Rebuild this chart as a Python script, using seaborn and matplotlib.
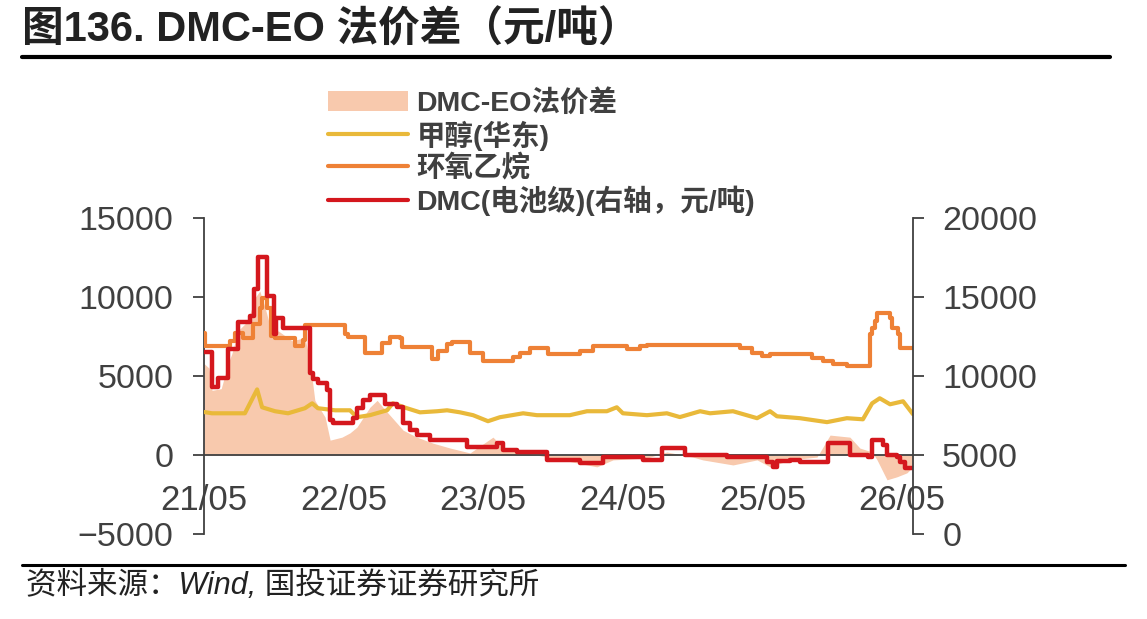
import pandas as pd
import numpy as np
import seaborn as sns
import matplotlib
matplotlib.use('Agg')
from matplotlib import pyplot as plt
import matplotlib.dates as mdates
from matplotlib.patches import Patch
from matplotlib.lines import Line2D

# DMC (battery grade), right axis, step series
dmc_dates = ['2021-05-01', '2021-05-22', '2021-06-07', '2021-07-03', '2021-07-29', '2021-08-29',
             '2021-09-09', '2021-09-19', '2021-10-13', '2021-10-31', '2021-11-05', '2021-11-24',
             '2022-02-02', '2022-02-10', '2022-02-23', '2022-03-19', '2022-03-27', '2022-04-03',
             '2022-05-26', '2022-06-05', '2022-06-21', '2022-07-09', '2022-08-18', '2022-09-18',
             '2022-10-04', '2022-10-22', '2022-11-09', '2022-12-13', '2023-03-20', '2023-06-07',
             '2023-06-22', '2023-07-29', '2023-10-15', '2024-01-10', '2024-03-10', '2024-06-22',
             '2024-08-11', '2024-10-10', '2025-01-28', '2025-05-13', '2025-05-29', '2025-06-08',
             '2025-07-12', '2025-08-07', '2025-10-19', '2025-12-16', '2026-02-01', '2026-02-12',
             '2026-03-12', '2026-03-23', '2026-04-18', '2026-04-26', '2026-05-09', '2026-05-30']
dmc_values = [11500, 9300, 9850, 11730, 13430, 13800,
              15500, 17500, 15060, 12670, 13680, 13050,
              10160, 9840, 9530, 9090, 7200, 7000,
              7330, 7960, 8460, 8770, 8210, 8020,
              7000, 6570, 6260, 5940, 5500, 5750,
              5310, 5190, 4690, 4520, 4870, 4690,
              5440, 5000, 4870, 4560, 4250, 4630,
              4690, 4560, 5750, 5000, 4870, 5940,
              5630, 5000, 4870, 4560, 4180, 4180]

# Ethylene oxide, left axis, step series
eo_dates = ['2021-05-01', '2021-05-04', '2021-07-08', '2021-07-21', '2021-08-11', '2021-09-06',
            '2021-09-24', '2021-09-30', '2021-10-13', '2021-10-23', '2021-11-03', '2021-12-25',
            '2022-01-15', '2022-01-20', '2022-05-05', '2022-05-13', '2022-06-26', '2022-08-10',
            '2022-08-31', '2022-09-26', '2022-10-01', '2022-12-18', '2023-01-03', '2023-01-27',
            '2023-02-09', '2023-03-28', '2023-05-01', '2023-07-18', '2023-08-06', '2023-09-01',
            '2023-10-18', '2024-01-10', '2024-02-13', '2024-05-12', '2024-06-15', '2024-07-03',
            '2025-03-03', '2025-04-04', '2025-04-30', '2025-05-21', '2025-09-08', '2025-10-06',
            '2025-11-01', '2025-12-08', '2026-02-06', '2026-02-12', '2026-02-19', '2026-02-25',
            '2026-03-31', '2026-04-04', '2026-04-20', '2026-04-26', '2026-05-30']
eo_values = [7690, 6920, 7230, 7740, 7420, 8300,
             9300, 9940, 9300, 7550, 7420, 6920,
             7300, 8200, 7670, 7480, 6480, 7110,
             7480, 7420, 6860, 6100, 6600, 7040,
             7170, 6480, 5980, 6230, 6480, 6800,
             6420, 6600, 6920, 6730, 6920, 6980,
             6800, 6480, 6290, 6420, 6160, 5980,
             5790, 5660, 7670, 8050, 8490, 9000,
             8700, 8050, 7670, 6800, 6800]

# Methanol (East China), left axis
meoh_dates = ['2021-05-01', '2021-05-22', '2021-08-16', '2021-08-24', '2021-09-17', '2021-09-30',
              '2021-11-03', '2021-12-07', '2022-01-20', '2022-02-08', '2022-02-23', '2022-04-09',
              '2022-05-18', '2022-06-05', '2022-07-09', '2022-08-23', '2022-09-07', '2022-10-14',
              '2022-11-17', '2023-01-01', '2023-01-27', '2023-03-02', '2023-04-05', '2023-05-14',
              '2023-06-14', '2023-08-14', '2023-09-19', '2023-12-14', '2024-01-28', '2024-03-20',
              '2024-04-15', '2024-05-01', '2024-07-03', '2024-08-24', '2024-09-27', '2024-11-19',
              '2024-12-15', '2025-02-13', '2025-04-17', '2025-05-21', '2025-06-08', '2025-08-07',
              '2025-10-17', '2025-12-08', '2026-01-19', '2026-02-12', '2026-03-04', '2026-03-31',
              '2026-05-04', '2026-05-30']
meoh_values = [2720, 2640, 2640, 3020, 4150, 3020,
               2770, 2640, 2960, 3270, 2960, 2830,
               2830, 2390, 2520, 2830, 3270, 2960,
               2700, 2770, 2830, 2700, 2520, 2140,
               2390, 2640, 2520, 2520, 2770, 2770,
               3020, 2640, 2520, 2640, 2400, 2770,
               2640, 2770, 2330, 2770, 2450, 2330,
               2080, 2330, 2260, 3270, 3590, 3210,
               3400, 2580]

# DMC-EO spread, left axis, filled area
spread_dates = ['2021-05-01', '2021-05-14', '2021-05-22', '2021-06-15', '2021-07-03', '2021-07-13',
                '2021-07-29', '2021-08-24', '2021-09-11', '2021-09-24', '2021-10-08', '2021-10-26',
                '2021-11-11', '2021-12-17', '2022-01-20', '2022-02-02', '2022-02-15', '2022-03-14',
                '2022-03-27', '2022-04-27', '2022-05-18', '2022-06-05', '2022-07-09', '2022-07-28',
                '2022-08-12', '2022-09-18', '2022-10-04', '2022-11-09', '2022-12-21', '2023-02-04',
                '2023-03-28', '2023-05-27', '2023-06-22', '2023-07-29', '2023-10-15', '2024-02-23',
                '2024-04-05', '2024-07-03', '2024-08-24', '2024-10-31', '2024-11-26', '2025-02-13',
                '2025-04-17', '2025-05-21', '2025-07-12', '2025-09-21', '2025-10-25', '2025-12-16',
                '2026-01-11', '2026-02-12', '2026-02-25', '2026-03-23', '2026-04-18', '2026-05-14',
                '2026-05-30']
spread_values = [5790, 5500, 4090, 4200, 5790, 6420,
                 7860, 8490, 9940, 10380, 9310, 7670,
                 7860, 7230, 7420, 5980, 3460, 2390,
                 940, 1130, 1400, 1760, 3020, 3460,
                 3020, 2010, 1570, 1130, 750, 440,
                 130, 1130, 500, 250, -130, -750,
                 -310, -190, 190, -130, -310, -630,
                 -310, -750, -310, -130, 1260, 1130,
                 440, 190, -310, -1570, -1380, -1130,
                 -750]

legend_labels = ['DMC-EO法价差', '甲醇(华东)', '环氧乙烷', 'DMC(电池级)(右轴，元/吨)']
x_ticks = ['2021-05-01', '2022-05-01', '2023-05-01', '2024-05-01', '2025-05-01', '2026-05-01']

c_fill = '#F8C9AD'
c_meoh = '#E9B93A'
c_eo = '#EE8136'
c_dmc = '#D4171D'
c_text = '#404040'

dmc = pd.DataFrame({'date': pd.to_datetime(dmc_dates), 'value': dmc_values})
eo = pd.DataFrame({'date': pd.to_datetime(eo_dates), 'value': eo_values})
meoh = pd.DataFrame({'date': pd.to_datetime(meoh_dates), 'value': meoh_values})
spread = pd.DataFrame({'date': pd.to_datetime(spread_dates), 'value': spread_values})

sns.set_style('white')
plt.rcParams['font.family'] = ['Liberation Sans', 'Noto Sans CJK SC', 'DejaVu Sans']
plt.rcParams['axes.unicode_minus'] = True

fig = plt.figure(figsize=(11.47, 6.19), dpi=100)
ax = fig.add_axes([204 / 1147, 1 - 534 / 619, 709 / 1147, 316 / 619])
ax2 = ax.twinx()

# Spread area and left axis lines
ax.fill_between(spread['date'], 0, spread['value'], color=c_fill, lw=0, zorder=1)
sns.lineplot(data=meoh, x='date', y='value', ax=ax, color=c_meoh, lw=3, zorder=3)
sns.lineplot(data=eo, x='date', y='value', ax=ax, color=c_eo, lw=3, zorder=3,
             drawstyle='steps-post')
sns.lineplot(data=dmc, x='date', y='value', ax=ax2, color=c_dmc, lw=3.2,
             drawstyle='steps-post')

xmin, xmax = pd.Timestamp('2021-05-01'), pd.Timestamp('2026-05-30')
ax.set_xlim(xmin, xmax)
ax.set_ylim(-5000, 15000)
ax2.set_ylim(0, 20000)
ax.set_yticks([-5000, 0, 5000, 10000, 15000])
ax2.set_yticks([0, 5000, 10000, 15000, 20000])
ax.set_xticks(pd.to_datetime(x_ticks))
ax.xaxis.set_major_formatter(mdates.DateFormatter('%y/%m'))

for a in (ax, ax2):
    a.set_xlabel('')
    a.set_ylabel('')
    a.spines['top'].set_visible(False)
    for s in a.spines.values():
        s.set_color(c_text)
        s.set_linewidth(1.3)
ax.spines['right'].set_visible(False)
ax2.spines['left'].set_visible(False)
ax2.spines['bottom'].set_visible(False)
ax.spines['bottom'].set_position(('data', 0))
ax.spines['bottom'].set_zorder(4)

ax.tick_params(axis='y', direction='out', length=8, width=1.3, color=c_text,
               labelsize=24.5, labelcolor=c_text, pad=14)
ax.tick_params(axis='x', direction='out', length=10, width=1.3, color=c_text,
               labelsize=25, labelcolor=c_text, pad=11)
ax2.tick_params(axis='y', direction='out', length=8, width=1.3, color=c_text,
                labelsize=24.5, labelcolor=c_text, pad=13)
ax2.tick_params(axis='x', bottom=False, labelbottom=False)

# Legend above the plot area
handles = [Patch(facecolor=c_fill, edgecolor='none'),
           Line2D([], [], color=c_meoh, lw=3),
           Line2D([], [], color=c_eo, lw=3),
           Line2D([], [], color=c_dmc, lw=3)]
leg = fig.legend(handles, legend_labels, loc='upper left',
                 bbox_to_anchor=(328 / 1147, 1 - 89 / 619), frameon=False,
                 prop={'size': 20.5, 'weight': 'bold'}, handlelength=2.8,
                 handleheight=0.75, handletextpad=0.3, labelspacing=0.12,
                 borderpad=0, borderaxespad=0)
for t in leg.get_texts():
    t.set_color(c_text)

# Title, rules and source note
fig.text(22 / 1147, 1 - 30 / 619, '图136. DMC-EO 法价差（元/吨）', fontsize=30,
         fontweight='bold', color='#222222', va='center', ha='left')
fig.add_artist(Line2D([22 / 1147, 1110 / 1147], [1 - 57 / 619] * 2, color='black', lw=3))
fig.add_artist(Line2D([22 / 1147, 1125 / 1147], [1 - 565 / 619] * 2, color='black', lw=2.2))
fig.text(26 / 1147, 1 - 586 / 619, '资料来源：Wind, 国投证券证券研究所', fontsize=22,
         style='italic', color='#222222', va='center', ha='left')

fig.savefig('out.png', dpi=100)
